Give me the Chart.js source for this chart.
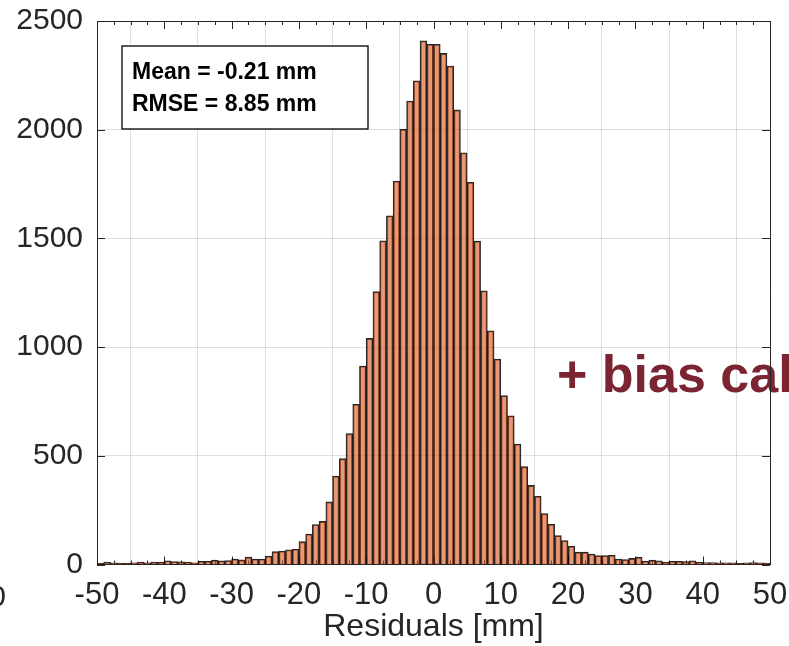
<!DOCTYPE html>
<html><head><meta charset="utf-8">
<script src="https://cdn.jsdelivr.net/npm/chart.js@4"></script>
<style>html,body{margin:0;padding:0;background:#fff}#wrap{width:789px;height:646px;position:relative}</style>
</head><body><div id="wrap"><canvas id="c" width="789" height="646"></canvas></div>
<script>
// Histogram bin centers [mm] (1 mm bins from -50 to 50)
const binCenters = [
 -49.5,-48.5,-47.5,-46.5,-45.5,-44.5,-43.5,-42.5,-41.5,-40.5,
 -39.5,-38.5,-37.5,-36.5,-35.5,-34.5,-33.5,-32.5,-31.5,-30.5,
 -29.5,-28.5,-27.5,-26.5,-25.5,-24.5,-23.5,-22.5,-21.5,-20.5,
 -19.5,-18.5,-17.5,-16.5,-15.5,-14.5,-13.5,-12.5,-11.5,-10.5,
 -9.5,-8.5,-7.5,-6.5,-5.5,-4.5,-3.5,-2.5,-1.5,-0.5,
 0.5,1.5,2.5,3.5,4.5,5.5,6.5,7.5,8.5,9.5,
 10.5,11.5,12.5,13.5,14.5,15.5,16.5,17.5,18.5,19.5,
 20.5,21.5,22.5,23.5,24.5,25.5,26.5,27.5,28.5,29.5,
 30.5,31.5,32.5,33.5,34.5,35.5,36.5,37.5,38.5,39.5,
 40.5,41.5,42.5,43.5,44.5,45.5,46.5,47.5,48.5,49.5
];
// Counts per bin
const counts = [
 5,11,8,6,5,8,11,8,11,11,
 17,14,12,11,8,15,15,20,17,18,
 25,21,34,25,25,39,59,62,68,71,
 105,140,184,198,288,407,487,602,737,913,
 1040,1255,1489,1604,1764,2002,2132,2225,2409,2393,
 2393,2351,2293,2091,1894,1758,1488,1259,1075,945,
 777,684,554,450,364,314,234,185,133,110,
 84,57,57,48,41,41,43,25,23,28,
 33,16,20,17,11,15,15,14,17,11,
 9,9,8,8,8,5,8,9,8,6
];
const xTicks = [-50,-40,-30,-20,-10,0,10,20,30,40,50];
const yTicks = [0,500,1000,1500,2000,2500];
const statLines = ['Mean = -0.21 mm','RMSE = 8.85 mm'];
const xTitle = 'Residuals [mm]';
const overlayText = '+ bias cal';

const FONT = "'Liberation Sans', Arial, Helvetica, sans-serif";
const AX = '#262626';

const deco = {
  id:'deco',
  beforeDatasetsDraw(chart){
    const {ctx, chartArea:a, scales:{x,y}} = chart;
    ctx.save();
    ctx.strokeStyle = AX; ctx.lineWidth = 1;
    ctx.beginPath();
    for(let v=-50; v<=50; v+=2.5){
      const px = Math.round(x.getPixelForValue(v))+0.5;
      const major = xTicks.includes(v);
      const L = major?8:4;
      ctx.moveTo(px,a.bottom); ctx.lineTo(px,a.bottom-L);
      ctx.moveTo(px,a.top); ctx.lineTo(px,a.top+L);
    }
    yTicks.forEach(v=>{
      const py = Math.round(y.getPixelForValue(v))+0.5;
      ctx.moveTo(a.left,py); ctx.lineTo(a.left+8,py);
      ctx.moveTo(a.right,py); ctx.lineTo(a.right-8,py);
    });
    ctx.stroke();
    ctx.restore();
  },
  afterDatasetsDraw(chart){
    const {ctx, chartArea:a} = chart;
    ctx.save();
    const bx = a.left+25, by = a.top+25, bw = 246, bh = 83;
    ctx.fillStyle='#fff'; ctx.fillRect(bx,by,bw,bh);
    ctx.strokeStyle='#000'; ctx.lineWidth=1.3; ctx.strokeRect(bx,by,bw,bh);
    ctx.fillStyle='#000'; ctx.font = "bold 23px "+FONT; ctx.textBaseline='alphabetic'; ctx.textAlign='left';
    ctx.fillText(statLines[0], bx+10, by+33);
    ctx.fillText(statLines[1], bx+10, by+65);
    ctx.fillStyle='#7B2432'; ctx.font = "bold 52px "+FONT;
    ctx.fillText(overlayText, 557, 392);
    ctx.restore();
  },
  afterDraw(chart){
    const {ctx, chartArea:a} = chart;
    ctx.save();
    ctx.strokeStyle = AX; ctx.lineWidth = 1;
    ctx.beginPath();
    ctx.moveTo(a.left, Math.round(a.top)+0.5); ctx.lineTo(a.right, Math.round(a.top)+0.5);
    ctx.moveTo(Math.round(a.right)+0.5, a.top); ctx.lineTo(Math.round(a.right)+0.5, a.bottom);
    ctx.stroke();
    ctx.fillStyle = AX; ctx.font = "30px "+FONT; ctx.textAlign='right'; ctx.textBaseline='alphabetic';
    ctx.fillText('0', 6, 606);
    ctx.restore();
  }
};

new Chart(document.getElementById('c'), {
  type:'bar',
  data:{datasets:[{
    data: binCenters.map((v,i)=>({x:v, y:counts[i]})),
    backgroundColor:'rgba(217,83,25,0.6)',
    borderColor:'rgba(0,0,0,0.85)',
    borderWidth:1.2,
    barPercentage:1, categoryPercentage:1
  }]},
  options:{
    responsive:false, animation:false,
    layout:{padding:{left:0,right:19,top:21,bottom:0}},
    plugins:{legend:{display:false}, tooltip:{enabled:false}},
    scales:{
      x:{type:'linear', min:-50, max:50, offset:false,
        afterBuildTicks:s=>{s.ticks = xTicks.map(v=>({value:v}));},
        ticks:{font:{family:FONT,size:31}, color:AX, padding:12, maxRotation:0, autoSkip:false, callback:v=>String(v)},
        grid:{color:'rgba(0,0,0,0.12)', drawTicks:false},
        border:{color:AX, width:1},
        title:{display:true, text:xTitle, color:AX, font:{family:FONT,size:32}, padding:{top:0,bottom:0}},
        afterFit:s=>{s.height=81.5; s.paddingLeft=0; s.paddingRight=0; s.paddingTop=0; s.paddingBottom=0;}
      },
      y:{min:0, max:2500,
        afterBuildTicks:s=>{s.ticks = yTicks.map(v=>({value:v}));},
        ticks:{font:{family:FONT,size:30}, color:AX, padding:14, callback:v=>String(v)},
        grid:{color:'rgba(0,0,0,0.12)', drawTicks:false},
        border:{color:AX, width:1},
        afterFit:s=>{s.width=97; s.paddingLeft=0; s.paddingRight=0; s.paddingTop=0; s.paddingBottom=0;}
      }
    }
  },
  plugins:[deco]
});
</script></body></html>
